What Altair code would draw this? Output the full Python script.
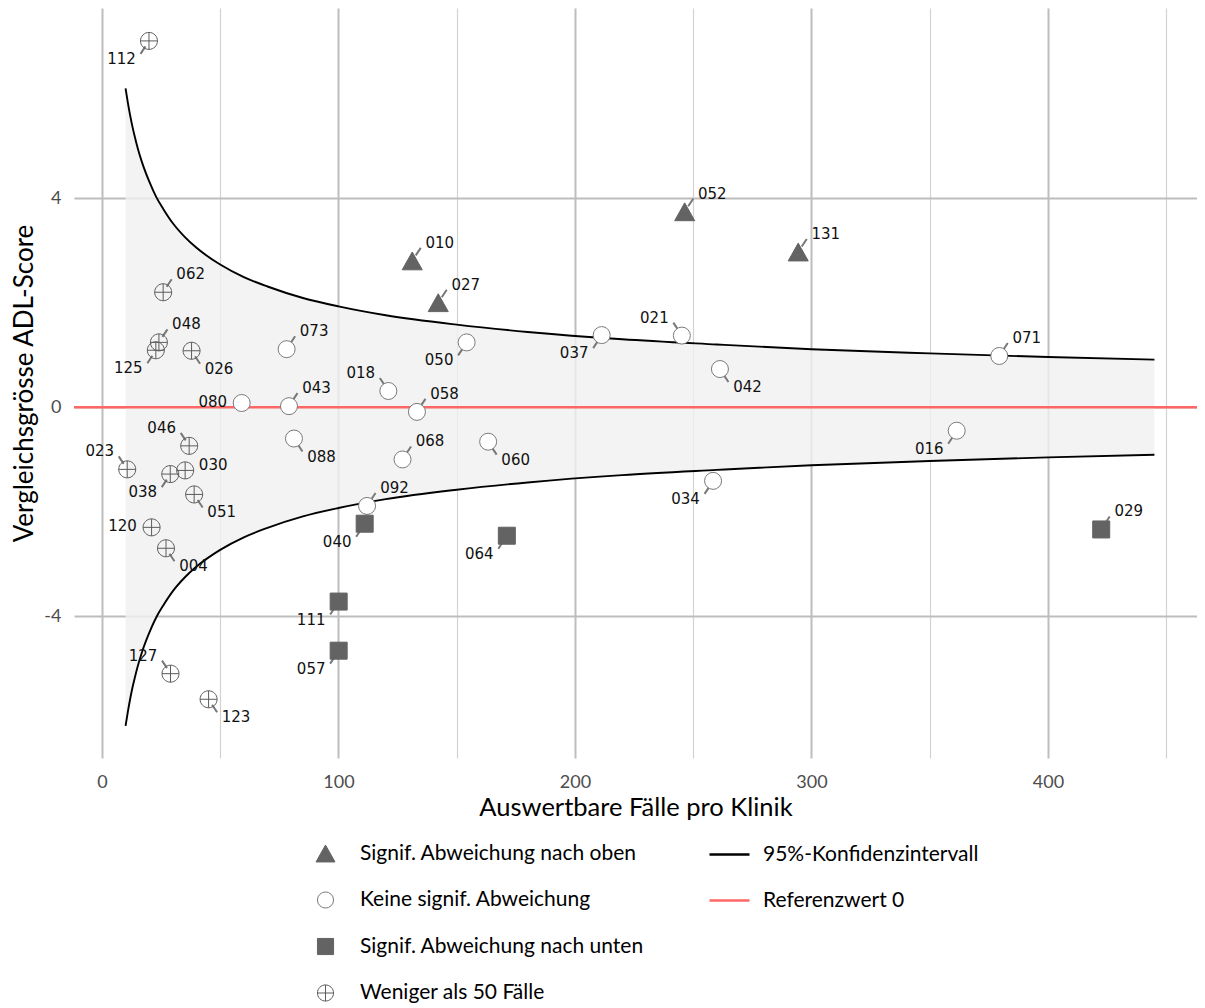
import altair as alt
import pandas as pd

# ---------------- data ----------------
klinik = ["112", "062", "048", "125", "026", "080", "046", "023", "030", "038",
          "051", "120", "004", "127", "123", "010", "027", "073", "050", "018",
          "043", "058", "088", "068", "060", "092", "040", "064", "111", "057",
          "052", "131", "037", "021", "042", "034", "071", "016", "029"]
faelle = [19.9, 25.9, 24.1, 22.8, 37.9, 59.1, 36.9, 10.7, 35.2, 28.9,
          39.0, 21.0, 27.1, 29.0, 45.1, 131.2, 142.2, 78.1, 154.2, 121.1,
          79.1, 133.2, 81.2, 127.1, 163.3, 112.1, 111.1, 171.2, 100.1, 100.1,
          246.4, 294.4, 211.3, 245.2, 261.3, 258.4, 379.4, 361.4, 422.5]
score = [7.01, 2.20, 1.24, 1.09, 1.08, 0.08, -0.74, -1.19, -1.21, -1.28,
         -1.67, -2.30, -2.70, -5.10, -5.59, 2.80, 2.00, 1.11, 1.24, 0.31,
         0.02, -0.09, -0.60, -1.00, -0.66, -1.89, -2.23, -2.46, -3.72, -4.66,
         3.74, 2.97, 1.38, 1.37, 0.73, -1.41, 0.98, -0.45, -2.34]
# 0 = up, 1 = none, 2 = down, 3 = fewer than 50
gruppe_code = [3, 3, 3, 3, 3, 1, 3, 3, 3, 3,
               3, 3, 3, 3, 3, 0, 0, 1, 1, 1,
               1, 1, 1, 1, 1, 1, 2, 2, 2, 2,
               0, 0, 1, 1, 1, 1, 1, 1, 2]
label_dir = ["dl", "ur", "ur", "dl", "dr", "l", "ul", "ul", "r", "dl",
             "dr", "l", "dr", "ul", "dr", "ur", "ur", "ur", "dl", "ul",
             "ur", "ur", "dr", "ur", "dr", "ur", "dl", "dl", "dl", "dl",
             "ur", "ur", "dl", "ul", "dr", "dl", "ur", "dl", "ur"]

gruppen = ["Signif. Abweichung nach oben", "Keine signif. Abweichung",
           "Signif. Abweichung nach unten", "Weniger als 50 Fälle"]

ci_n = [10, 11, 12, 13, 14, 15, 17, 20, 23, 26, 30, 35, 40, 50, 60, 70, 85,
        100, 120, 150, 180, 220, 260, 300, 350, 400, 445]
ci_upper = [6.10, 5.82, 5.57, 5.35, 5.16, 4.98, 4.68, 4.32, 4.02, 3.79, 3.52,
            3.26, 3.05, 2.73, 2.49, 2.31, 2.09, 1.93, 1.76, 1.58, 1.44, 1.30,
            1.20, 1.11, 1.03, 0.96, 0.91]
ci_lower = [-6.10, -5.82, -5.57, -5.35, -5.16, -4.98, -4.68, -4.32, -4.02, -3.79,
            -3.52, -3.26, -3.05, -2.73, -2.49, -2.31, -2.09, -1.93, -1.76, -1.58,
            -1.44, -1.30, -1.20, -1.11, -1.03, -0.96, -0.91]

line_kinds = ["95%-Konfidenzintervall", "Referenzwert 0"]
referenzwert = [0]

x_ticks = [0, 50, 100, 150, 200, 250, 300, 350, 400, 450]
y_ticks = [-4, 0, 4]

# ---------------- layout ----------------
X_MIN, X_MAX = -11.8, 463.0
Y_MIN, Y_MAX = -6.714, 7.64
W, H = 1123, 750
kx = W / (X_MAX - X_MIN)
ky = H / (Y_MAX - Y_MIN)

# label offsets in pixels (right, down) per direction
txt_off = {"ur": (27.5, -18), "ul": (-27.5, -18), "dr": (27.5, 18), "dl": (-27.5, 18),
           "l": (-29, -1), "r": (28, -5)}
seg_a = {"ur": (3.5, -5.5), "ul": (-3.5, -5.5), "dr": (3.5, 5.5), "dl": (-3.5, 5.5)}
seg_b = {"ur": (8.5, -13), "ul": (-8.5, -13), "dr": (8.5, 13), "dl": (-8.5, 13)}

pts = pd.DataFrame({"klinik": klinik, "n": faelle, "score": score,
                    "grp": [gruppen[c] for c in gruppe_code], "dir": label_dir})
pts["lx"] = [x + txt_off[d][0] / kx for x, d in zip(faelle, label_dir)]
pts["ly"] = [y - txt_off[d][1] / ky for y, d in zip(score, label_dir)]

seg_rows = []
for kid, x, y, d in zip(klinik, faelle, score, label_dir):
    if d in seg_a:
        seg_rows.append({"klinik": kid,
                         "sx": x + seg_a[d][0] / kx, "sy": y - seg_a[d][1] / ky,
                         "ex": x + seg_b[d][0] / kx, "ey": y - seg_b[d][1] / ky})
segs = pd.DataFrame(seg_rows)

ci_df = pd.DataFrame({"n": ci_n, "upper": ci_upper, "lower": ci_lower})
ci_long = pd.concat([
    pd.DataFrame({"n": ci_n, "v": ci_upper, "side": "upper", "kind": line_kinds[0]}),
    pd.DataFrame({"n": ci_n, "v": ci_lower, "side": "lower", "kind": line_kinds[0]}),
])
ref_df = pd.DataFrame({"v": referenzwert, "kind": [line_kinds[1]]})

# ---------------- encodings ----------------
FONT = "Lato"
xscale = alt.Scale(domain=[X_MIN, X_MAX], nice=False, zero=False)
yscale = alt.Scale(domain=[Y_MIN, Y_MAX], nice=False, zero=False)

xaxis = alt.Axis(values=x_ticks, title="Auswertbare Fälle pro Klinik",
                 labelExpr="datum.value % 100 === 0 ? '' + datum.value : ''",
                 grid=True, ticks=False, tickSize=0, domain=False,
                 gridColor={"condition": {"test": "datum.value % 100 === 0", "value": "#bdbdbd"},
                            "value": "#d2d2d2"},
                 gridWidth={"condition": {"test": "datum.value % 100 === 0", "value": 2},
                            "value": 1.2},
                 labelFont=FONT, labelFontSize=18, labelColor="#4d4d4d", labelPadding=15,
                 titleFont=FONT, titleFontSize=25.5, titleFontWeight="normal", titleColor="#000000",
                 titleY=49, titleBaseline="middle")
yaxis = alt.Axis(values=y_ticks, title="Vergleichsgrösse ADL-Score",
                 labelExpr="'' + datum.value",
                 grid=True, ticks=False, tickSize=0, domain=False,
                 gridColor="#bdbdbd", gridWidth=2,
                 labelFont=FONT, labelFontSize=18, labelColor="#4d4d4d", labelPadding=13,
                 titleFont=FONT, titleFontSize=26, titleFontWeight="normal", titleColor="#000000",
                 titleAngle=270, titleX=-50, titleY=375, titleAlign="center", titleBaseline="middle")


def X(field):
    return alt.X(field, type="quantitative", scale=xscale, axis=xaxis)


def Y(field):
    return alt.Y(field, type="quantitative", scale=yscale, axis=yaxis)


tri_path = "M0,-1.05 L1.18,1.05 L-1.18,1.05 Z"
cross_path = ("M-1,0 A1,1 0 1,1 1,0 A1,1 0 1,1 -1,0 Z "
              "M-1,0 L1,0 M0,-1 L0,1")

shape_legend = alt.Legend(orient="none", legendX=241, legendY=835, title=None,
                          labelFont=FONT, labelFontSize=21, labelColor="#000000",
                          labelLimit=400, labelOffset=24, rowPadding=24.5, padding=0,
                          symbolSize=260, symbolStrokeWidth=1.5)
line_legend = alt.Legend(orient="none", legendX=634, legendY=825, title=None,
                         labelFont=FONT, labelFontSize=21, labelColor="#000000",
                         labelLimit=400, labelOffset=12, rowPadding=14, padding=0,
                         symbolType="stroke", symbolSize=1600, symbolStrokeWidth=2.5)
stroke_scale = alt.Scale(domain=line_kinds, range=["#000000", "#ff6666"])

band = alt.Chart(ci_df).mark_area(fill="#f0f0f0", opacity=0.8, interpolate="monotone").encode(
    x=X("n"), y=Y("lower"), y2="upper")

ci_lines = alt.Chart(ci_long).mark_line(strokeWidth=1.9, interpolate="monotone").encode(
    x=X("n"), y=Y("v"), detail="side:N",
    stroke=alt.Stroke("kind:N", scale=stroke_scale, legend=line_legend))

ref_line = alt.Chart(ref_df).mark_rule(strokeWidth=2.5).encode(
    y=Y("v"), stroke=alt.Stroke("kind:N", scale=stroke_scale, legend=line_legend))

seg_layer = alt.Chart(segs).mark_rule(color="#777777", strokeWidth=2).encode(
    x=X("sx"), y=Y("sy"), x2="ex", y2="ey")

points = alt.Chart(pts).mark_point(filled=True, size=289, opacity=1).encode(
    x=X("n"), y=Y("score"),
    shape=alt.Shape("grp:N", scale=alt.Scale(domain=gruppen,
                                             range=[tri_path, "circle", "square", cross_path]),
                    legend=shape_legend),
    fill=alt.Fill("grp:N", scale=alt.Scale(domain=gruppen,
                                           range=["#636363", "#ffffff", "#636363", "transparent"]),
                  legend=shape_legend),
    stroke=alt.Stroke("grp:N", scale=alt.Scale(domain=gruppen,
                                               range=["#636363", "#7a7a7a", "#636363", "#5c5c5c"]),
                      legend=shape_legend),
    strokeWidth=alt.StrokeWidth("grp:N", scale=alt.Scale(domain=gruppen, range=[1, 1, 1, 2]),
                                legend=None))

labels = alt.Chart(pts).mark_text(font="DejaVu Sans", fontSize=15, color="#111111",
                                  align="center", baseline="middle").encode(
    x=X("lx"), y=Y("ly"), text="klinik:N")

lines_part = alt.layer(band, ref_line, ci_lines, seg_layer)
points_part = alt.layer(points, labels)

chart = alt.layer(lines_part, points_part).resolve_scale(
    stroke="independent", shape="independent", fill="independent", strokeWidth="independent"
).properties(
    width=W, height=H,
    autosize=alt.AutoSizeParams(type="none"),
    padding={"left": 66, "top": 0, "right": 0, "bottom": 250},
    background="#ffffff",
).configure_view(stroke=None)

chart.save("out.html", embed_options={"renderer": "svg", "actions": False})
